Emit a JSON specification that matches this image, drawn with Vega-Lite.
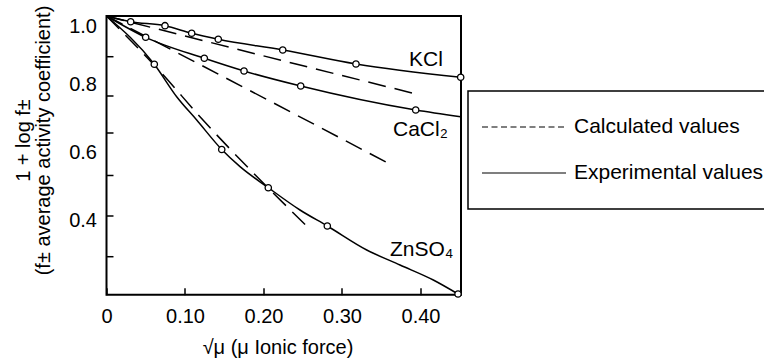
{
  "$schema": "https://vega.github.io/schema/vega-lite/v6.json",
  "autosize": {"type": "none"},
  "width": 354.5,
  "height": 278.7,
  "padding": {"left": 106.5, "top": 16, "right": 303, "bottom": 67.3},
  "background": "white",
  "datasets": {
    "curves": [
      {"salt": "KCl", "type": "Calculated values", "x": 0, "y": 1},
      {"salt": "KCl", "type": "Calculated values", "x": 0.2296, "y": 0.866},
      {"salt": "KCl", "type": "Calculated values", "x": 0.3972, "y": 0.7698},
      {"salt": "CaCl2", "type": "Calculated values", "x": 0, "y": 1},
      {"salt": "CaCl2", "type": "Calculated values", "x": 0.1446, "y": 0.827},
      {"salt": "CaCl2", "type": "Calculated values", "x": 0.3577, "y": 0.5698},
      {"salt": "ZnSO4", "type": "Calculated values", "x": 0, "y": 1},
      {"salt": "ZnSO4", "type": "Calculated values", "x": 0.0703, "y": 0.832},
      {"salt": "ZnSO4", "type": "Calculated values", "x": 0.1191, "y": 0.7047},
      {"salt": "ZnSO4", "type": "Calculated values", "x": 0.2601, "y": 0.3724},
      {"salt": "KCl", "type": "Experimental values", "x": 0, "y": 1, "pt": false},
      {"salt": "KCl", "type": "Experimental values", "x": 0.0308, "y": 0.9833, "pt": true},
      {"salt": "KCl", "type": "Experimental values", "x": 0.0745, "y": 0.9716, "pt": true},
      {"salt": "KCl", "type": "Experimental values", "x": 0.1085, "y": 0.9493, "pt": true},
      {"salt": "KCl", "type": "Experimental values", "x": 0.1424, "y": 0.9317, "pt": true},
      {"salt": "KCl", "type": "Experimental values", "x": 0.2245, "y": 0.9003, "pt": true},
      {"salt": "KCl", "type": "Experimental values", "x": 0.3178, "y": 0.8592, "pt": true},
      {"salt": "KCl", "type": "Experimental values", "x": 0.4512, "y": 0.8202, "pt": true},
      {"salt": "CaCl2", "type": "Experimental values", "x": 0, "y": 1, "pt": false},
      {"salt": "CaCl2", "type": "Experimental values", "x": 0.0499, "y": 0.9375, "pt": true},
      {"salt": "CaCl2", "type": "Experimental values", "x": 0.1246, "y": 0.876, "pt": true},
      {"salt": "CaCl2", "type": "Experimental values", "x": 0.1752, "y": 0.8387, "pt": true},
      {"salt": "CaCl2", "type": "Experimental values", "x": 0.2474, "y": 0.7947, "pt": true},
      {"salt": "CaCl2", "type": "Experimental values", "x": 0.3939, "y": 0.7243, "pt": true},
      {"salt": "CaCl2", "type": "Experimental values", "x": 0.4512, "y": 0.7047, "pt": false},
      {"salt": "ZnSO4", "type": "Experimental values", "x": 0, "y": 1, "pt": false},
      {"salt": "ZnSO4", "type": "Experimental values", "x": 0.0609, "y": 0.8584, "pt": true},
      {"salt": "ZnSO4", "type": "Experimental values", "x": 0.0894, "y": 0.7633, "pt": false},
      {"salt": "ZnSO4", "type": "Experimental values", "x": 0.1149, "y": 0.695, "pt": false},
      {"salt": "ZnSO4", "type": "Experimental values", "x": 0.1468, "y": 0.6085, "pt": true},
      {"salt": "ZnSO4", "type": "Experimental values", "x": 0.1701, "y": 0.5581, "pt": false},
      {"salt": "ZnSO4", "type": "Experimental values", "x": 0.2061, "y": 0.4965, "pt": true},
      {"salt": "ZnSO4", "type": "Experimental values", "x": 0.2465, "y": 0.4311, "pt": false},
      {"salt": "ZnSO4", "type": "Experimental values", "x": 0.2813, "y": 0.3842, "pt": true},
      {"salt": "ZnSO4", "type": "Experimental values", "x": 0.3315, "y": 0.3138, "pt": false},
      {"salt": "ZnSO4", "type": "Experimental values", "x": 0.3739, "y": 0.2698, "pt": false},
      {"salt": "ZnSO4", "type": "Experimental values", "x": 0.4163, "y": 0.2258, "pt": false},
      {"salt": "ZnSO4", "type": "Experimental values", "x": 0.4478, "y": 0.1848, "pt": true}
    ],
    "labels": [
      {"label": "KCl", "x": 0.3854, "y": 0.871},
      {"label": "CaCl₂", "x": 0.365, "y": 0.6657},
      {"label": "ZnSO₄", "x": 0.3611, "y": 0.3138}
    ],
    "yticks": [
      {"v": 0.2941},
      {"v": 0.4135},
      {"v": 0.5323},
      {"v": 0.6569},
      {"v": 0.7654},
      {"v": 0.8806}
    ]
  },
  "resolve": {"axis": {"y": "independent"}},
  "layer": [
    {
      "data": {"name": "curves"},
      "mark": {"type": "line", "interpolate": "monotone", "color": "black", "strokeWidth": 1.5, "opacity": 0},
      "encoding": {
        "x": {
          "field": "x", "type": "quantitative",
          "scale": {"domain": [0, 0.4516], "nice": false, "zero": false},
          "axis": {
            "values": [0, 0.1, 0.2, 0.3, 0.4],
            "labelExpr": "datum.value == 0 ? '0' : format(datum.value, '.2f')",
            "labelFlush": false,
            "labelOverlap": false,
            "title": "√μ (μ Ionic force)",
            "titleX": 171, "titleY": 43
          }
        },
        "y": {
          "field": "y", "type": "quantitative",
          "scale": {"domain": [0.1827, 1], "nice": false, "zero": false},
          "axis": {
            "orient": "left",
            "values": [0.4, 0.6, 0.8, 1],
            "format": ".1f",
            "ticks": false,
            "labelPadding": 10,
            "labelFlush": false,
            "labelOverlap": false,
            "labelBaseline": {"condition": {"test": "datum.value == 1", "value": "top"}, "value": "middle"},
            "title": ["1 + log f±", "(f± average activity coefficient)"],
            "titleX": -73.5, "titleY": 124, "titleLineHeight": 20
          }
        },
        "detail": {"field": "salt"},
        "strokeDash": {
          "field": "type", "type": "nominal",
          "scale": {"domain": ["Calculated values", "Experimental values"], "range": [[6, 3.5], [1, 0]]},
          "legend": {
            "title": null,
            "orient": "none",
            "legendX": 361.5,
            "legendY": 75,
            "direction": "vertical",
            "symbolType": "stroke",
            "symbolSize": 7056,
            "symbolStrokeWidth": 1.2,
            "symbolStrokeColor": "black",
            "symbolOpacity": 1,
            "clipHeight": 46,
            "labelFontSize": 21,
            "labelFont": "Liberation Sans",
            "labelColor": "black",
            "labelOffset": 7,
            "labelLimit": 400,
            "padding": 13,
            "rowPadding": 0,
            "strokeColor": "black",
            "encode": {
              "legend": {"update": {"strokeWidth": {"value": 1.5}}}
            }
          }
        }
      }
    },
    {
      "data": {"name": "yticks"},
      "mark": {"type": "rule", "color": "black", "strokeWidth": 1.5},
      "encoding": {
        "y": {"field": "v", "type": "quantitative", "axis": null},
        "x": {"datum": 0},
        "x2": {"datum": 0.0089}
      }
    },
    {
      "data": {"name": "curves"},
      "transform": [{"filter": "datum.type === 'Calculated values'"}],
      "mark": {"type": "line", "interpolate": "monotone", "color": "black", "strokeWidth": 1.5, "strokeDash": [18, 9]},
      "encoding": {
        "x": {"field": "x", "type": "quantitative"},
        "y": {"field": "y", "type": "quantitative", "axis": null},
        "detail": {"field": "salt"}
      }
    },
    {
      "data": {"name": "curves"},
      "transform": [{"filter": "datum.type === 'Experimental values'"}],
      "mark": {"type": "line", "interpolate": "monotone", "color": "black", "strokeWidth": 1.5},
      "encoding": {
        "x": {"field": "x", "type": "quantitative"},
        "y": {"field": "y", "type": "quantitative", "axis": null},
        "detail": {"field": "salt"}
      }
    },
    {
      "data": {"name": "curves"},
      "transform": [{"filter": "datum.pt === true"}],
      "mark": {"type": "point", "shape": "circle", "filled": true, "fill": "white", "stroke": "black", "strokeWidth": 1.3, "size": 40, "opacity": 1},
      "encoding": {
        "x": {"field": "x", "type": "quantitative"},
        "y": {"field": "y", "type": "quantitative", "axis": null}
      }
    },
    {
      "data": {"name": "labels"},
      "mark": {"type": "text", "align": "left", "baseline": "middle", "fontSize": 21, "font": "Liberation Sans", "color": "black"},
      "encoding": {
        "x": {"field": "x", "type": "quantitative"},
        "y": {"field": "y", "type": "quantitative", "axis": null},
        "text": {"field": "label"}
      }
    }
  ],
  "config": {
    "font": "Liberation Sans",
    "view": {"stroke": "black", "strokeWidth": 2},
    "axis": {
      "domain": false,
      "grid": false,
      "labelOverlap": false,
      "tickSize": -7,
      "tickWidth": 1.5,
      "tickColor": "black",
      "labelFontSize": 20,
      "labelFont": "Liberation Sans",
      "labelColor": "black",
      "labelPadding": 17,
      "titleFontSize": 20,
      "titleFont": "Liberation Sans",
      "titleFontWeight": "normal",
      "titleColor": "black"
    },
    "axisX": {"labelPadding": 19}
  }
}
